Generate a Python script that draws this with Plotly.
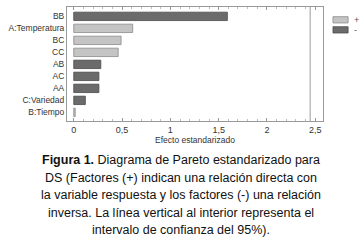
import plotly.graph_objects as go

categories = ["BB", "A:Temperatura", "BC", "CC", "AB", "AC", "AA", "C:Variedad", "B:Tiempo"]
effects = [1.59, 0.61, 0.49, 0.46, 0.28, 0.26, 0.26, 0.12, 0.015]
signs = ["-", "+", "+", "+", "-", "-", "-", "-", "+"]
x_ticks = [0, 0.5, 1, 1.5, 2, 2.5]
x_tick_labels = ["0", "0,5", "1", "1,5", "2", "2,5"]
critical_value = 2.447
caption_lines = [
    "<b>Figura 1.</b> Diagrama de Pareto estandarizado para",
    "DS (Factores (+) indican una relación directa con",
    "la variable respuesta y los factores (-) una relación",
    "inversa. La línea vertical al interior representa el",
    "intervalo de confianza del 95%).",
]

colors = {"+": "#c4c4c4", "-": "#6b6b6b"}
borders = {"+": "#8a8a8a", "-": "#4a4a4a"}
FONT = "Liberation Sans, Arial"

fig = go.Figure()
for s in ["+", "-"]:
    fig.add_trace(go.Bar(
        x=[e for e, sg in zip(effects, signs) if sg == s],
        y=[c for c, sg in zip(categories, signs) if sg == s],
        orientation="h", name=s, width=0.7, showlegend=False,
        marker=dict(color=colors[s], line=dict(color=borders[s], width=0.8)),
    ))

fig.add_shape(type="line", xref="x", yref="paper", x0=critical_value, x1=critical_value,
              y0=0, y1=1, line=dict(color="#9a9a9a", width=1))

# manual legend
for i, s in enumerate(["+", "-"]):
    y_top = 0.915 - i * 0.088
    fig.add_shape(type="rect", xref="paper", yref="paper", x0=1.039, x1=1.098,
                  y0=y_top - 0.055, y1=y_top, fillcolor=colors[s],
                  line=dict(color=borders[s], width=0.8))
    fig.add_annotation(text=s, xref="paper", yref="paper", x=1.115, y=y_top - 0.0275,
                       xanchor="left", yanchor="middle", showarrow=False,
                       font=dict(family=FONT, size=9, color="#555"))

for i, line in enumerate(caption_lines):
    fig.add_annotation(text=line, xref="paper", yref="paper", x=0.445,
                       y=(121 - 160 - i * 17.5) / 114,
                       xanchor="center", yanchor="middle", showarrow=False,
                       font=dict(family=FONT, size=12.5, color="#111"))

fig.update_layout(
    width=363, height=242,
    margin=dict(l=67, r=40, t=7, b=121),
    plot_bgcolor="white", paper_bgcolor="white",
    barmode="overlay",
    showlegend=False,
    font=dict(family=FONT, size=9, color="#333"),
)
fig.update_xaxes(range=[-0.07, 2.58], tickvals=x_ticks, ticktext=x_tick_labels,
                 showgrid=False, zeroline=False, showline=True, linecolor="#999",
                 linewidth=1, mirror="ticks", ticks="inside", ticklen=3, tickcolor="#999",
                 minor=dict(dtick=0.1, ticks="inside", ticklen=2, tickcolor="#bbb"),
                 title=dict(text="Efecto estandarizado", font=dict(size=8.5, color="#333"), standoff=2),
                 tickfont=dict(size=9, color="#333"), automargin=False)
fig.update_yaxes(categoryorder="array", categoryarray=categories,
                 range=[8.72, -0.78], showgrid=False, showline=True, linecolor="#999",
                 linewidth=1, mirror=True, ticks="", tickfont=dict(size=8.5, color="#333"),
                 automargin=False)

fig.write_html("out.html", config={"displayModeBar": False},
               post_script="document.body.style.margin='0';")
